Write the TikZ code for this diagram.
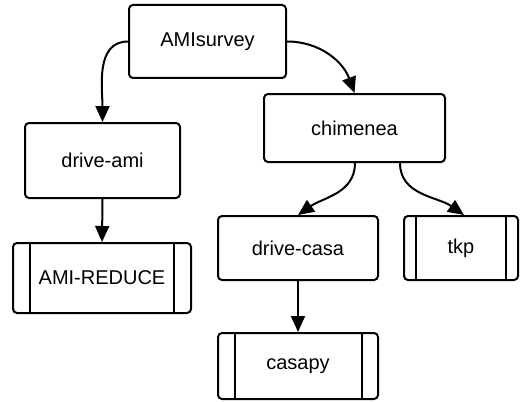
\documentclass[tikz,border=0pt]{standalone}
\usepackage{fontspec}
\setmainfont{Liberation Sans}
\usetikzlibrary{arrows.meta,calc}
\begin{document}
\begin{tikzpicture}[x=1pt,y=1pt,
  box/.style={draw,line width=2pt,rounded corners=4pt,inner sep=0pt,
    font=\fontsize{20}{24}\selectfont,anchor=center},
  procbox/.style={box,path picture={
    \draw[line width=2pt] ([xshift=#1]path picture bounding box.north west) -- ([xshift=#1]path picture bounding box.south west);
    \draw[line width=2pt] ([xshift=-#1]path picture bounding box.north east) -- ([xshift=-#1]path picture bounding box.south east);}},
  conn/.style={line width=2pt,-{Triangle[length=16pt,width=14pt]}}]
\useasboundingbox (0,0) rectangle (526,-401);
\node[box,minimum width=157pt,minimum height=73pt] (ams) at (207.5,-41.5) {AMIsurvey};
\node[box,minimum width=181pt,minimum height=68pt] (chim) at (354.5,-128) {chimenea};
\node[box,minimum width=155pt,minimum height=75pt] (dami) at (102.5,-160.5) {drive-ami};
\node[procbox=17pt,minimum width=178pt,minimum height=70pt] (amir) at (102,-278) {AMI-REDUCE};
\node[box,minimum width=160pt,minimum height=64pt] (dcasa) at (298,-248) {drive-casa};
\node[procbox=12pt,minimum width=114pt,minimum height=64pt] (tkp) at (461,-248) {tkp};
\node[procbox=16.5pt,minimum width=160pt,minimum height=66pt] (casapy) at (298,-366) {casapy};
\coordinate (c1) at ($(chim.south)+(0.5,0)$);
\coordinate (c2) at ($(chim.south)+(45.5,0)$);
\coordinate (t1) at ($(tkp.north)+(3,0)$);
\draw[conn] (ams.west) to[out=180,in=90] (dami.north);
\draw[conn] (ams.east) to[out=0,in=110] (chim.north);
\draw[conn] (c1) to[out=-90,in=35] (dcasa.north);
\draw[conn] (c2) to[out=-90,in=145] (t1);
\draw[conn] (dami.south) -- (amir.north);
\draw[conn] (dcasa.south) -- (casapy.north);
\end{tikzpicture}
\end{document}
